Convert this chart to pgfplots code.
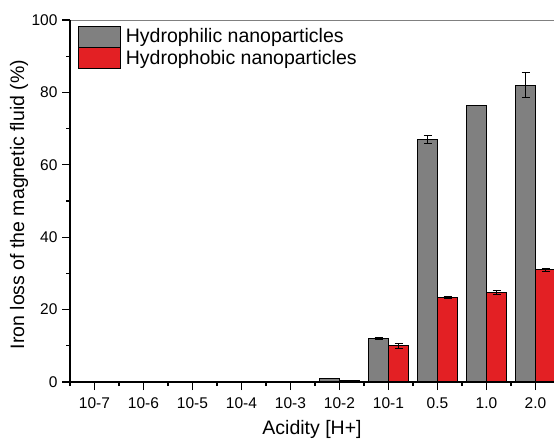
\documentclass[border=0pt]{standalone}
\usepackage{fontspec}
\setmainfont{Liberation Sans}
\usepackage{pgfplots}
\pgfplotsset{compat=1.18}

\definecolor{philic}{RGB}{128,128,128}
\definecolor{phobic}{RGB}{227,32,36}

\begin{document}
\begin{tikzpicture}[x=1bp,y=1bp]
\begin{axis}[
  at={(70bp,58bp)}, anchor=south west,
  scale only axis, width=490bp, height=362bp,
  ybar=0pt, bar width=20bp,
  xmin=-0.5, xmax=9.5, ymin=0, ymax=100,
  xtick={0,...,9},
  xticklabels={10-7,10-6,10-5,10-4,10-3,10-2,10-1,0.5,1.0,2.0},
  minor xtick={-0.5,0.5,...,9.5},
  ytick={0,20,...,100}, minor ytick={10,30,...,90},
  tick align=outside, tick pos=left,
  major tick length=8bp, minor tick length=4bp,
  every tick/.style={black, line width=1.1bp},
  /pgf/number format/assume math mode=true,
  tick label style={font=\fontsize{15.5bp}{18bp}\selectfont},
  xticklabel style={yshift=-4bp},
  yticklabel style={xshift=-1bp},
  xlabel={Acidity [H+]},
  ylabel={Iron loss of the magnetic fluid (\%)},
  label style={font=\fontsize{19.5bp}{22bp}\selectfont},
  xlabel style={at={(rel axis cs:0.494,0)}, anchor=base, yshift=-52bp},
  ylabel style={at={(rel axis cs:0,0.49)}, anchor=base, rotate=0, xshift=0bp, yshift=46bp},
  axis line style={draw=philic, line width=0.8bp},
  legend style={draw=none, fill=none, at={(rel axis cs:0.016,0.985)}, anchor=north west,
    font=\fontsize{19.5bp}{22bp}\selectfont, row sep=0bp, inner sep=0pt},
  legend cell align=left,
  legend image code/.code={\draw[#1, draw=black, line width=0.8bp] (0bp,-10.5bp) rectangle (42bp,10.5bp);
    \path (45bp,0);},
  error bars/error bar style={black, line width=0.8bp},
  error bars/error mark options={rotate=90, mark size=4bp, line width=0.8bp},
  clip=false,
]
\addplot[fill=philic, draw=black, line width=0.8bp,
  error bars/.cd, y dir=both, y explicit]
  table[x=x, y=y, y error=e] {
  x y e
  4 0.2 0
  5 1.0 0
  6 12.0 0.3
  7 67.0 1.0
  8 76.5 0
  9 82.0 3.4
  };
\addlegendentry{Hydrophilic nanoparticles}
\addplot[fill=phobic, draw=black, line width=0.8bp,
  error bars/.cd, y dir=both, y explicit]
  table[x=x, y=y, y error=e] {
  x y e
  5 0.4 0
  6 10.0 0.6
  7 23.3 0.3
  8 24.8 0.5
  9 31.0 0.4
  };
\addlegendentry{Hydrophobic nanoparticles}
% heavier left and bottom spines
\draw[black, line width=1.3bp] (rel axis cs:0,1) -- (rel axis cs:0,0) -- (rel axis cs:1,0);
\end{axis}
\pgfresetboundingbox
\path (0,0) rectangle (554bp,440bp);
\end{tikzpicture}
\end{document}
